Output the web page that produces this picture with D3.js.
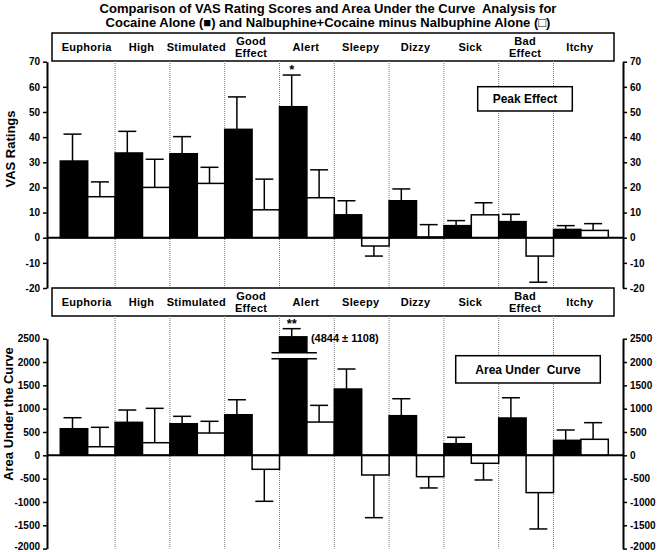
<!DOCTYPE html>
<html><head><meta charset="utf-8">
<script src="https://cdn.jsdelivr.net/npm/d3@7"></script>
<style>
body{margin:0;background:#fff;}
svg{display:block;font-family:"Liberation Sans",Arial,Helvetica,sans-serif;font-weight:bold;}
</style></head>
<body><svg id="chart" width="657" height="552"></svg>
<script>
const categories = ["Euphoria","High","Stimulated","Good Effect","Alert","Sleepy","Dizzy","Sick","Bad Effect","Itchy"];
const peakTicks = [70,60,50,40,30,20,10,0,-10,-20];
const aucTicks = [2500,2000,1500,1000,500,0,-500,-1000,-1500,-2000];

const peakCocaine    = [30.5, 33.7, 33.4, 43.1, 52.1, 9.1, 14.7, 4.8, 6.4, 3.3];
const peakCocaineErr = [10.7, 8.6, 6.8, 12.9, 12.6, 5.6, 4.7, 2.0, 2.9, 1.5];
const peakNalb       = [16.3, 20.0, 21.6, 11.1, 15.9, -3.3, 0.3, 9.1, -7.3, 2.9];
const peakNalbErr    = [5.9, 11.2, 6.4, 12.2, 11.1, 4.0, 4.9, 4.8, 10.4, 2.7];

const aucCocaine    = [570, 707, 677, 870, 4844, 1421, 849, 249, 800, 321];
const aucCocaineErr = [236, 264, 159, 321, 1108, 429, 364, 137, 434, 222];
const aucNalb       = [184, 270, 478, -300, 713, -422, -458, -171, -800, 343];
const aucNalbErr    = [416, 737, 251, 686, 358, 915, 242, 358, 779, 357];

// broken-axis display for the off-scale bar
const aucDisplayMax = 2540;
const aucDisplayErr = 175;
const aucBreak = [2070, 2200];

const svg = d3.select("#chart");
const xLeft = 47, xRight = 623;
const x = d3.scaleBand().domain(categories).range([60.3, 608.3]).padding(0);
const sub = d3.scaleBand().domain(["coc","nal"]).range([0, x.bandwidth()]).padding(0);
const fmt = d => String(d);

// Title
svg.append("text").attr("x", 328).attr("y", 13).attr("text-anchor","middle").attr("xml:space","preserve")
  .attr("font-size", 13).text("Comparison of VAS Rating Scores and Area Under the Curve  Analysis for");
svg.append("text").attr("x", 328).attr("y", 27).attr("text-anchor","middle")
  .attr("font-size", 13).text("Cocaine Alone (\u25A0) and Nalbuphine+Cocaine minus Nalbuphine Alone (\u25A1)");

function panel(opts){
  const {y, ticks, coc, cocErr, nal, nalErr, headTop, headBot, plotBot, title, legend} = opts;
  const g = svg.append("g");
  g.append("rect").attr("x",52).attr("y",headTop).attr("width",562).attr("height",headBot-headTop)
    .attr("fill","#fff").attr("stroke","#000").attr("stroke-width",1.5);
  categories.forEach(c=>{
    const parts = c.split(" ");
    const cx = x(c) + x.bandwidth()/2 - 1;
    const mid = (headTop+headBot)/2;
    const t = (yy, s) => g.append("text").attr("x",cx).attr("y",yy).attr("text-anchor","middle")
      .attr("font-size",11).attr("letter-spacing",0.3).text(s);
    if(parts.length===1){ t(mid+4, c); }
    else { t(mid-2, parts[0]); t(mid+10, parts[1]); }
  });
  categories.slice(1).forEach(c=>{
    g.append("line").attr("x1",x(c)).attr("x2",x(c)).attr("y1",headBot).attr("y2",plotBot)
      .attr("stroke","#777").attr("stroke-width",1).attr("stroke-dasharray","1,1");
  });
  const la = g.append("g").attr("transform",`translate(${xLeft},0)`)
    .call(d3.axisLeft(y).tickValues(ticks).tickFormat(fmt).tickSize(4).tickSizeOuter(0).tickPadding(3));
  const ra = g.append("g").attr("transform",`translate(${xRight},0)`)
    .call(d3.axisRight(y).tickValues(ticks).tickFormat(fmt).tickSize(4).tickSizeOuter(0).tickPadding(3));
  [la,ra].forEach(a=>{
    a.select(".domain").attr("stroke-width",2);
    a.selectAll(".tick line").attr("stroke-width",1.5);
    a.selectAll("text").attr("font-size",10).attr("font-weight","bold").attr("font-family","'Liberation Sans',Arial,sans-serif");
    if(opts.nudgeBottom){
      a.selectAll(".tick").filter(d=>d===ticks[ticks.length-1]).select("text").attr("dy","0.05em");
    }
  });
  g.append("text").attr("transform",`translate(${opts.titleX},${opts.titleY}) rotate(-90)`).attr("text-anchor","middle")
    .attr("font-size",13).text(title);
  g.append("rect").attr("x",legend.x).attr("y",legend.y).attr("width",legend.w).attr("height",legend.h)
    .attr("fill","#fff").attr("stroke","#000").attr("stroke-width",1.5);
  g.append("text").attr("x",legend.x+legend.w/2).attr("y",legend.y+legend.h/2+4.5).attr("text-anchor","middle")
    .attr("font-size",12).attr("xml:space","preserve").text(legend.text);

  const bars = [];
  categories.forEach((c,i)=>{
    bars.push({c, k:"coc", v:coc[i], e:cocErr[i], fill:"#000"});
    bars.push({c, k:"nal", v:nal[i], e:nalErr[i], fill:"#fff"});
  });
  return {g, bars};
}

function drawBars(g, y, bars, displayMax, dispErr){
  bars.forEach(b=>{
    const bx = x(b.c) + sub(b.k);
    const bw = sub.bandwidth();
    const off = (displayMax!==undefined && b.v>displayMax);
    const v = off ? displayMax : b.v;
    const e = off ? dispErr : b.e;
    const y0 = y(0), y1 = y(v);
    const cx = bx + bw/2 - 1.5;
    const yE = v>=0 ? y(v+e) : y(v-e);
    g.append("line").attr("x1",cx).attr("x2",cx).attr("y1",y1).attr("y2",yE).attr("stroke","#000").attr("stroke-width",1.5);
    g.append("line").attr("x1",cx-9).attr("x2",cx+9).attr("y1",yE).attr("y2",yE).attr("stroke","#000").attr("stroke-width",1.5);
    g.append("rect").attr("x",bx).attr("y",Math.min(y0,y1)).attr("width",bw).attr("height",Math.abs(y1-y0))
      .attr("fill",b.fill).attr("stroke","#000").attr("stroke-width",1.5);
  });
}

// Top panel
const yPeak = d3.scaleLinear().domain([-20,70]).range([288,61.7]);
const p1 = panel({y:yPeak, ticks:peakTicks, coc:peakCocaine, cocErr:peakCocaineErr, nal:peakNalb, nalErr:peakNalbErr,
  headTop:33, headBot:61, plotBot:288, title:"VAS Ratings", titleX:15, titleY:149,
  legend:{x:477.7,y:86.7,w:94.6,h:24.3,text:"Peak Effect"}});
drawBars(p1.g, yPeak, p1.bars);
p1.g.append("line").attr("x1",xLeft).attr("x2",xRight).attr("y1",yPeak(0)).attr("y2",yPeak(0)).attr("stroke","#000").attr("stroke-width",2);
{
  const i = categories.indexOf("Alert");
  const cx = x("Alert") + sub("coc") + sub.bandwidth()/2 - 1.5;
  p1.g.append("text").attr("x",cx).attr("y",yPeak(peakCocaine[i]+peakCocaineErr[i])-1).attr("text-anchor","middle").attr("font-size",13).text("*");
}

// Bottom panel
const yAuc = d3.scaleLinear().domain([-2000,2500]).range([548.6,338.7]);
const p2 = panel({y:yAuc, ticks:aucTicks, coc:aucCocaine, cocErr:aucCocaineErr, nal:aucNalb, nalErr:aucNalbErr,
  headTop:288, headBot:316, plotBot:548.6, title:"Area Under the Curve", titleX:13, titleY:414, nudgeBottom:true,
  legend:{x:455.7,y:355.7,w:144.6,h:27.3,text:"Area Under  Curve"}});
drawBars(p2.g, yAuc, p2.bars, aucDisplayMax, aucDisplayErr);
p2.g.append("line").attr("x1",xLeft).attr("x2",xRight).attr("y1",yAuc(0)).attr("y2",yAuc(0)).attr("stroke","#000").attr("stroke-width",2);
{
  const i = categories.indexOf("Alert");
  const bx = x("Alert") + sub("coc");
  const cx = bx + sub.bandwidth()/2 - 1.5;
  p2.g.append("rect").attr("x",bx-1).attr("y",yAuc(aucBreak[1])).attr("width",sub.bandwidth()+2)
    .attr("height",yAuc(aucBreak[0])-yAuc(aucBreak[1])).attr("fill","#fff");
  aucBreak.forEach(v=>{
    p2.g.append("line").attr("x1",bx-8).attr("x2",bx+sub.bandwidth()+10).attr("y1",yAuc(v)).attr("y2",yAuc(v))
      .attr("stroke","#000").attr("stroke-width",1.5);
  });
  p2.g.append("text").attr("x",cx).attr("y",yAuc(aucDisplayMax+aucDisplayErr)-1).attr("text-anchor","middle").attr("font-size",13).text("**");
  p2.g.append("text").attr("x",bx+sub.bandwidth()+4).attr("y",yAuc(aucDisplayMax)+5).attr("font-size",11)
    .text(`(${aucCocaine[i]} \u00B1 ${aucCocaineErr[i]})`);
}
</script></body></html>
